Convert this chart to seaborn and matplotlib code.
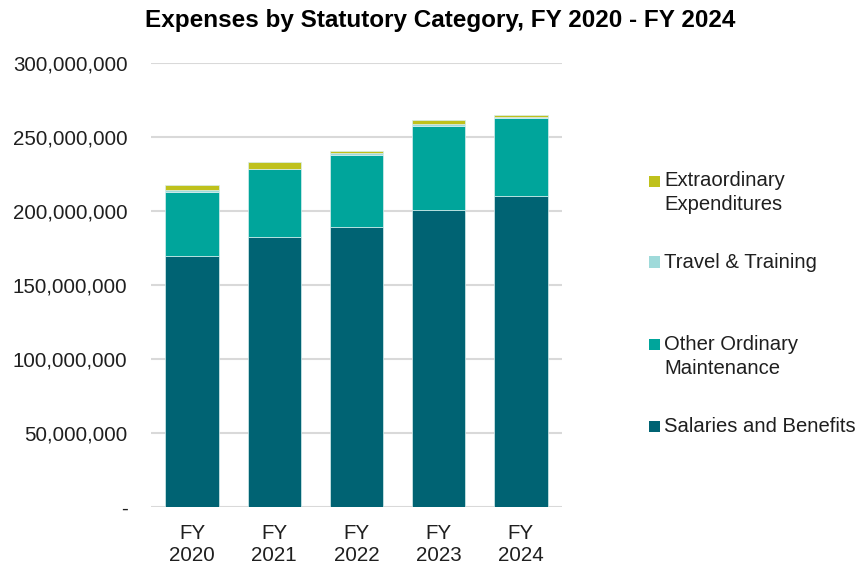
import numpy as np
import pandas as pd
import matplotlib.pyplot as plt
import seaborn as sns
from matplotlib.patches import Rectangle
from matplotlib.ticker import FuncFormatter

# Values (dollars)
years = ["FY\n2020", "FY\n2021", "FY\n2022", "FY\n2023", "FY\n2024"]
salaries = [169.3e6, 182.6e6, 189.4e6, 200.9e6, 210.3e6]
other_ordinary = [43.3e6, 45.5e6, 48.7e6, 56.3e6, 52.3e6]
travel = [1.3e6, 0.5e6, 1.3e6, 1.4e6, 1.1e6]
extraordinary = [3.9e6, 4.5e6, 1.4e6, 3.1e6, 1.2e6]

series_names = ["Salaries and Benefits", "Other Ordinary\nMaintenance",
                "Travel & Training", "Extraordinary\nExpenditures"]
series_values = [salaries, other_ordinary, travel, extraordinary]
colors = ["#006373", "#00A59B", "#9FDADA", "#BFC11C"]

sns.set_style("white")
plt.rcParams['font.family'] = ['Liberation Sans', 'DejaVu Sans']

W, H = 857, 567
fig = plt.figure(figsize=(W / 100, H / 100), dpi=100)
ax = fig.add_axes([151 / W, 1 - 507 / H, 411 / W, 444 / H])

bottom = np.zeros(len(years))
for name, vals, col in zip(series_names, series_values, colors):
    df = pd.DataFrame({"year": years, "value": vals})
    sns.barplot(data=df, x="year", y="value", color=col, width=0.65,
                bottom=bottom, edgecolor="#D8EEEE", linewidth=0.5,
                saturation=1, ax=ax, zorder=3)
    bottom = bottom + np.array(vals)

ax.set_ylim(0, 300e6)
ax.set_xlim(-0.5, len(years) - 0.5)
ax.set_yticks(np.arange(0, 300e6 + 1, 50e6))
ax.yaxis.set_major_formatter(FuncFormatter(lambda v, p: "-" if v == 0 else f"{v:,.0f}"))
ax.grid(axis="y", color="#D9D9D9", linewidth=1.5, zorder=0)
ax.set_axisbelow(True)
for s in ax.spines.values():
    s.set_visible(False)
ax.tick_params(axis="y", length=0, pad=17, labelsize=14.8, labelcolor="#1F1F1F")
ax.tick_params(axis="x", length=0, pad=12, labelsize=14.8, labelcolor="#1F1F1F")
for t in ax.get_xticklabels():
    t.set_linespacing(1.2)
ax.set_xlabel("")
ax.set_ylabel("")

fig.text(440 / W, 1 - 20 / H, "Expenses by Statutory Category, FY 2020 - FY 2024",
         ha="center", va="center", fontsize=17.5, fontweight="bold", color="#000000")

# legend drawn by hand so the marker sits on the first line of each label
legend_rows = [181, 262, 344, 426]   # pixel rows of each entry's first line
for name, col, row in zip(series_names[::-1], colors[::-1], legend_rows):
    fig.add_artist(Rectangle((649 / W, 1 - (row + 5.5) / H), 11 / W, 11 / H,
                             transform=fig.transFigure, facecolor=col,
                             edgecolor="none"))
    for i, line in enumerate(name.split("\n")):
        fig.text(664 / W, 1 - (row + 24 * i) / H, line, ha="left", va="center",
                 fontsize=14.6, color="#1F1F1F")

fig.savefig("out.png", dpi=100)
